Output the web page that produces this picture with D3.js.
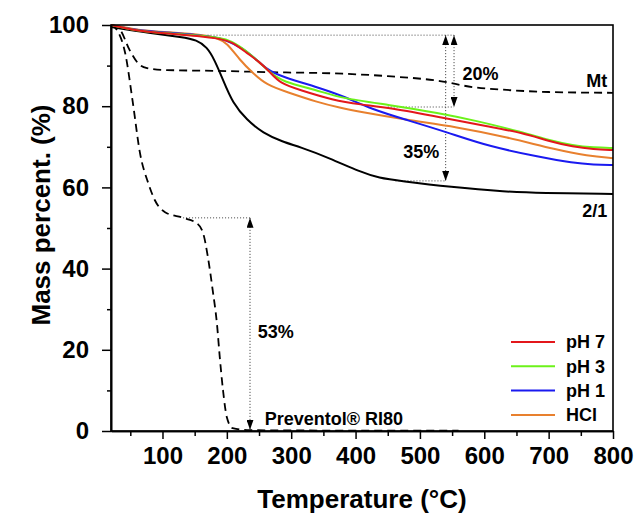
<!DOCTYPE html>
<html><head><meta charset="utf-8">
<script src="https://cdn.jsdelivr.net/npm/d3@7/dist/d3.min.js"></script>
<style>
body{margin:0;background:#fff}
text{font-family:"Liberation Sans",Arial,sans-serif;font-weight:bold;fill:#000}
</style>
</head><body>
<svg id="c" width="637" height="514"></svg>
<script>
// ---- data (temperature °C, mass %) ----
const xMajorTicks = [100,200,300,400,500,600,700,800];
const xMinorTicks = [50,150,250,350,450,550,650,750];
const yMajorTicks = [0,20,40,60,80,100];
const yMinorTicks = [10,30,50,70,90];

const pH7_T = [20,60,100,158,190,209,231,250,267,282,313,365,407,453,531,609,660,700,738,770,800];
const pH7_M = [100,98.6,98.0,97.3,96.6,95.8,93.1,91.0,88.4,85.7,84.0,81.5,80.4,79.6,77.3,74.9,73.4,71.4,70.0,69.4,69.2];

const pH3_T = [20,60,100,158,190,205,236,267,287,340,376,453,531,582,660,700,738,770,800];
const pH3_M = [100,98.6,98.0,97.4,96.8,96.3,93.1,88.2,86.0,84.0,82.0,80.3,78.3,76.6,73.6,71.6,70.3,69.8,69.7];

const pH1_T = [20,60,100,158,190,209,236,262,287,340,376,427,480,542,609,686,738,770,800];
const pH1_M = [100,98.7,98.2,97.5,96.8,95.6,93.1,88.9,87.2,84.7,82.8,79.1,76.6,73.6,70.0,67.5,66.0,65.6,65.5];

const HCl_T = [20,60,100,158,185,200,220,240,262,293,340,376,407,480,557,635,713,760,800];
const HCl_M = [100,98.8,98.3,97.7,96.9,95.6,91.4,88.2,85.2,83.5,81.0,79.6,78.6,76.6,74.9,72.4,69.2,67.8,67.2];

const ratio21_T = [20,80,132,153,169,181,194,209,231,256,287,313,360,407,437,469,547,635,686,800];
const ratio21_M = [99.5,98.0,97.0,96.3,94.6,91.4,86.5,80.8,76.6,73.4,71.2,70.0,67.2,63.8,62.3,61.6,60.1,58.9,58.6,58.4];

const Mt_T = [20,34,49,62,76,107,184,262,380,450,531,582,635,700,800];
const Mt_M = [100,98.8,93.8,90.6,89.4,88.9,88.7,88.4,88.0,87.4,86.2,84.7,84.0,83.5,83.3];

const prev_T = [20,31,42,54,65,78,88,104,132,153,163,170.5,178,184.5,189,194,200,209,236,400,560];
const prev_M = [100,98.3,93.1,80.8,68.5,61.0,56.9,53.9,52.5,51.2,48.8,42.9,34.7,26.6,18.2,10.1,3.4,0.7,0.2,0.1,0.1];

const seriesNames  = ["pH 7","pH 3","pH 1","HCl"];
const seriesColors = ["#e3171b","#6cf21a","#1a1af0","#e8802e"];

// annotation arrows: [temperature, mass from, mass to]
const arrow20 = [553, 97.5, 79.8];
const arrow35 = [540, 97.5, 61.6];
const arrow53 = [236, 52.5, 0.3];
// dotted guide lines: [mass, T from, T to]
const guides = [[97.5,170,553],[79.8,450,553],[61.6,462,540],[52.5,132,236]];
// annotation labels: [text, T, mass, anchor]
const labels = [["20%",566,86.4,"start"],["35%",474,67.2,"start"],["53%",248,22.8,"start"],
  ["Mt",791,84.7,"end"],["2/1",791,52.6,"end"],["Preventol® RI80",259,1.5,"start"]];

// ---- chart ----
const svg = d3.select("#c");
const x = d3.scaleLinear().domain([20,800]).range([111,613]);
const y = d3.scaleLinear().domain([0,100]).range([431,25]);

const defs = svg.append("defs");
defs.append("marker").attr("id","ah").attr("markerUnits","userSpaceOnUse")
  .attr("markerWidth",10).attr("markerHeight",7).attr("refX",10).attr("refY",3.5)
  .attr("orient","auto-start-reverse")
  .append("path").attr("d","M0,0L10,3.5L0,7Z").attr("fill","#000");

const lineM = d3.line().x(d=>x(d[0])).y(d=>y(d[1])).curve(d3.curveMonotoneX);
const lineB = d3.line().x(d=>x(d[0])).y(d=>y(d[1])).curve(d3.curveBasis);
const zip = (a,b)=>a.map((t,i)=>[t,b[i]]);

// guides
guides.forEach(g=>{
  svg.append("line").attr("x1",x(g[1])).attr("x2",x(g[2])).attr("y1",y(g[0])).attr("y2",y(g[0]))
    .attr("stroke","#444").attr("stroke-width",1).attr("stroke-dasharray","1,2");
});
[arrow20,arrow35,arrow53].forEach(a=>{
  svg.append("line").attr("x1",x(a[0])).attr("x2",x(a[0])).attr("y1",y(a[1])).attr("y2",y(a[2]))
    .attr("stroke","#333").attr("stroke-width",1).attr("stroke-dasharray","1,2")
    .attr("marker-start","url(#ah)").attr("marker-end","url(#ah)");
});

// dashed curves
[[Mt_T,Mt_M],[prev_T,prev_M]].forEach(s=>{
  svg.append("path").attr("d",lineM(zip(s[0],s[1]))).attr("fill","none")
    .attr("stroke","#000").attr("stroke-width",1.8).attr("stroke-dasharray","8,5");
});
svg.append("path").attr("d",lineB(zip(ratio21_T,ratio21_M))).attr("fill","none")
  .attr("stroke","#000").attr("stroke-width",2);

const colored = [[HCl_T,HCl_M,3],[pH1_T,pH1_M,2],[pH3_T,pH3_M,1],[pH7_T,pH7_M,0]];
colored.forEach(s=>{
  svg.append("path").attr("d",lineB(zip(s[0],s[1]))).attr("fill","none")
    .attr("stroke",seriesColors[s[2]]).attr("stroke-width",2);
});

// frame
svg.append("rect").attr("x",x(20)).attr("y",y(100)).attr("width",x(800)-x(20)).attr("height",y(0)-y(100))
  .attr("fill","none").attr("stroke","#000").attr("stroke-width",1.6);

// axes
const gx = svg.append("g").attr("transform",`translate(0,${y(0)})`)
  .call(d3.axisBottom(x).tickValues(xMajorTicks).tickSize(8).tickPadding(8).tickSizeOuter(0));
const gxm = svg.append("g").attr("transform",`translate(0,${y(0)})`)
  .call(d3.axisBottom(x).tickValues(xMinorTicks).tickSize(5).tickFormat("").tickSizeOuter(0));
const gy = svg.append("g").attr("transform",`translate(${x(20)},0)`)
  .call(d3.axisLeft(y).tickValues(yMajorTicks).tickSize(9).tickPadding(13).tickSizeOuter(0));
const gym = svg.append("g").attr("transform",`translate(${x(20)},0)`)
  .call(d3.axisLeft(y).tickValues(yMinorTicks).tickSize(4).tickFormat("").tickSizeOuter(0));
[gx,gxm,gy,gym].forEach(g=>{
  g.select(".domain").attr("stroke","#000").attr("stroke-width",1.6);
  g.selectAll(".tick line").attr("stroke","#000").attr("stroke-width",1.5);
  g.selectAll("text").style("font-size","24px").style("font-family","'Liberation Sans',Arial,sans-serif")
    .style("font-weight","bold").attr("fill","#000");
});

// axis titles
svg.append("text").attr("x",(x(20)+x(800))/2).attr("y",508).attr("text-anchor","middle")
  .style("font-size","26px").text("Temperature (°C)");
svg.append("text").attr("transform","translate(50,215) rotate(-90)").attr("text-anchor","middle")
  .style("font-size","26px").text("Mass percent. (%)");

// annotation labels
labels.forEach(l=>{
  svg.append("text").attr("x",x(l[1])).attr("y",y(l[2])).attr("text-anchor",l[3])
    .style("font-size","18px").text(l[0]);
});

// legend
const lg = svg.append("g");
seriesNames.forEach((n,i)=>{
  const yy = 342 + i*24.3;
  lg.append("line").attr("x1",511).attr("x2",555).attr("y1",yy).attr("y2",yy)
    .attr("stroke",seriesColors[i]).attr("stroke-width",2);
  lg.append("text").attr("x",566).attr("y",yy).attr("dy","0.36em").style("font-size","18px").text(n);
});
</script>
</body></html>
